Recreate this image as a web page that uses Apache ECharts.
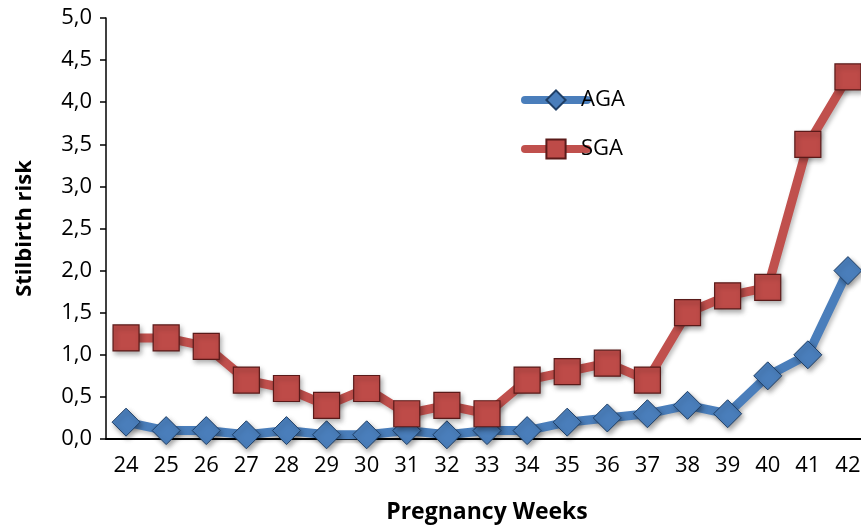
<!DOCTYPE html>
<html>
<head>
<meta charset="utf-8">
<script src="https://cdn.jsdelivr.net/npm/echarts@6/dist/echarts.min.js"></script>
<style>html,body{margin:0;padding:0;background:#fff;overflow:hidden;width:861px;height:527px}#c{width:861px;height:527px}</style>
</head>
<body>
<div id="c"></div>
<script>
const weeks = ['24','25','26','27','28','29','30','31','32','33','34','35','36','37','38','39','40','41','42'];
const aga = [0.2,0.1,0.1,0.05,0.1,0.05,0.05,0.1,0.05,0.1,0.1,0.2,0.25,0.3,0.4,0.3,0.75,1.0,2.0];
const sga = [1.2,1.2,1.1,0.7,0.6,0.4,0.6,0.3,0.4,0.3,0.7,0.8,0.9,0.7,1.5,1.7,1.8,3.5,4.3];
const yTicks = {min:0, max:5, interval:0.5};

const font = '"Open Sans", "Liberation Sans", sans-serif';
const chart = echarts.init(document.getElementById('c'));
chart.setOption({
  animation:false,
  backgroundColor:'#fff',
  grid:{left:106, width:762, top:18, height:421, outerBoundsMode:'none', containLabel:false},
  legend:{
    left:516, top:84, orient:'vertical', itemGap:27,
    itemWidth:62, itemHeight:24,
    lineStyle:{width:8, cap:'round'},
    textStyle:{fontFamily:font, fontSize:22, color:'#000', padding:[0,0,0,-11]},
    data:['AGA','SGA']
  },
  xAxis:{
    type:'category', data:weeks, boundaryGap:true,
    axisLine:{lineStyle:{color:'#000', width:2}},
    axisTick:{alignWithLabel:true, length:6, lineStyle:{color:'#000', width:1.5}},
    axisLabel:{color:'#000', fontFamily:font, fontSize:22, margin:16},
    name:'Pregnancy Weeks', nameLocation:'middle', nameGap:62,
    nameTextStyle:{fontFamily:font, fontSize:23, fontWeight:'bold', color:'#000'}
  },
  yAxis:{
    type:'value', min:yTicks.min, max:yTicks.max, interval:yTicks.interval,
    axisLine:{show:true, lineStyle:{color:'#000', width:1.5}},
    axisTick:{show:true, length:6, lineStyle:{color:'#000', width:1.5}},
    splitLine:{show:false},
    axisLabel:{color:'#000', fontFamily:font, fontSize:22, margin:14,
      formatter:v=>v.toFixed(1).replace('.',',')},
    name:'Stilbirth risk', nameLocation:'middle', nameGap:70,
    nameTextStyle:{fontFamily:font, fontSize:22, fontWeight:'bold', color:'#000'}
  },
  series:[
    {
      name:'AGA', type:'line', data:aga, symbol:'diamond', symbolSize:28,
      lineStyle:{color:'#4A7EBB', width:9, shadowColor:'rgba(0,0,0,0.25)', shadowBlur:4, shadowOffsetX:2, shadowOffsetY:3},
      itemStyle:{color:'#4A7EBB', borderColor:'#1F3F66', borderWidth:1, shadowColor:'rgba(0,0,0,0.35)', shadowBlur:5, shadowOffsetX:2, shadowOffsetY:3},
      z:2
    },
    {
      name:'SGA', type:'line', data:sga, symbol:'rect', symbolSize:26,
      lineStyle:{color:'#C0504D', width:9, shadowColor:'rgba(0,0,0,0.25)', shadowBlur:4, shadowOffsetX:2, shadowOffsetY:3},
      itemStyle:{color:'#BE4B48', borderColor:'#5A1A19', borderWidth:1.2, shadowColor:'rgba(0,0,0,0.35)', shadowBlur:5, shadowOffsetX:2, shadowOffsetY:3},
      z:3
    }
  ]
});
</script>
</body>
</html>
